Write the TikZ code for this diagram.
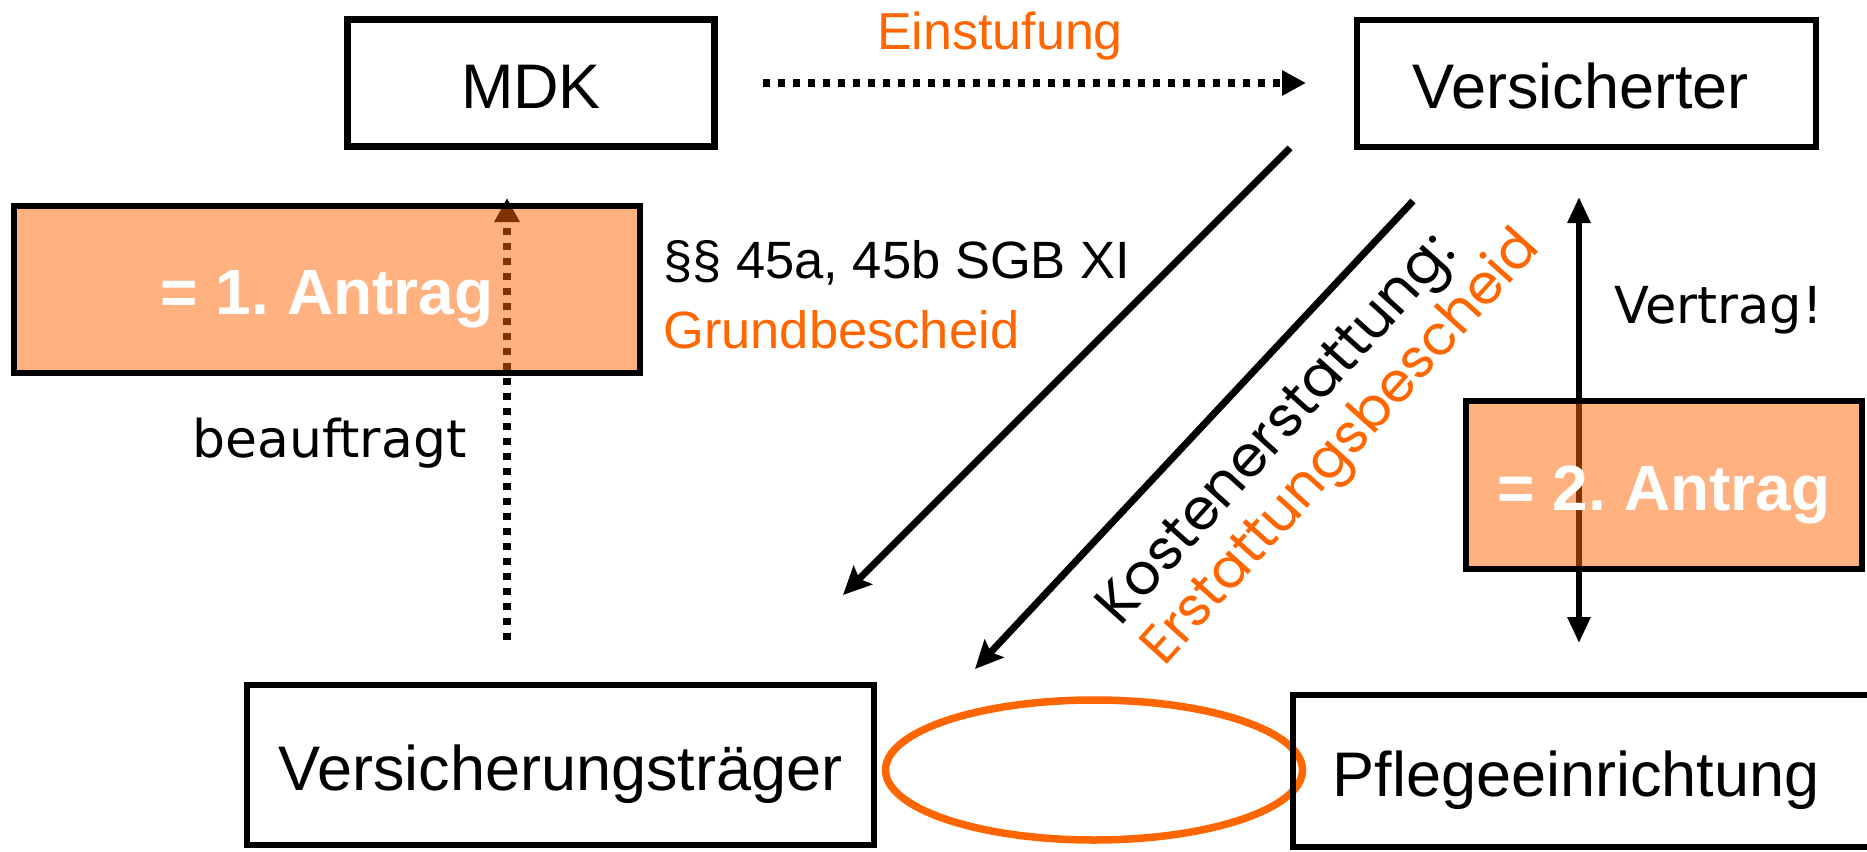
\documentclass[tikz,border=0pt]{standalone}
\usepackage{fontspec}
\setmainfont{Liberation Sans}
\newfontfamily\dvfont{DejaVu Sans}
\newfontfamily\popfont{Poppins}
\usetikzlibrary{arrows.meta,shapes.geometric}
\definecolor{orng}{HTML}{FF6600}
\newcommand\fsz[1]{\fontsize{#1}{#1}\selectfont}
\frenchspacing
\begin{document}
\begin{tikzpicture}[x=1pt,y=-1pt,
  box/.style={draw=black, line width=6.5pt, inner sep=0pt, text height=50pt, text depth=0pt, font=\fsz{63}},
  antrag/.style={box, fill=orng, fill opacity=0.5, text opacity=1, text=white, font=\fsz{64}\bfseries},
  lbl/.style={inner sep=0pt, anchor=base west},
  dotarrow/.style={line width=7.5pt, dash pattern=on 7pt off 8pt, -{Triangle[length=24pt,width=24pt]}},
  solidarrow/.style={line width=7pt, -{Stealth[length=28pt,width=26pt,inset=5pt]}},
  dblarrow/.style={line width=6pt, {Triangle[length=26pt,width=22pt]}-{Triangle[length=26pt,width=22pt]}}
]
\useasboundingbox (0,0) rectangle (1867,851);

% free connector ends
\coordinate (h1) at (763,83);
\coordinate (h2) at (1306,83);
\coordinate (v1) at (507,640);
\coordinate (v2) at (507,198);
\coordinate (d1a) at (1290,148);
\coordinate (d1b) at (843,595);
\coordinate (d2a) at (1413,201);
\coordinate (d2b) at (975,669);
\coordinate (w1) at (1579,197);
\coordinate (w2) at (1579,643);

% ellipse
\node[ellipse, draw=orng, line width=7.5pt, minimum width=417pt, minimum height=140pt, inner sep=0pt] (ell) at (1094,770) {};

% boxes
\node[box, minimum width=367pt, minimum height=127pt] (mdk) at (531,83) {MDK};
\node[box, minimum width=459pt, minimum height=127pt] (vers) at (1586.5,83.5) {\hspace*{-12pt}Versicherter};
\node[box, minimum width=627pt, minimum height=160pt] (vt) at (560.5,765) {Versicherungsträger};
\node[box, minimum width=582pt, minimum height=152pt] (pfl) at (1584,771) {\hspace*{-16pt}Pflegeeinrichtung};

% arrows
\draw[dotarrow] (h1) -- (h2);
\draw[dotarrow] (v1) -- (v2);
\draw[solidarrow] (d1a) -- (d1b);
\draw[solidarrow] (d2a) -- (d2b);
\draw[dblarrow] (w1) -- (w2);

% Antrag boxes (semi-transparent, over the arrows)
\node[antrag, minimum width=626pt, minimum height=167pt] (a1) at (327,289.5) {= 1. Antrag};
\node[antrag, minimum width=396pt, minimum height=168pt] (a2) at (1664,485) {= 2. Antrag};

% labels
\node[inner sep=0pt, anchor=base, text=orng, font=\fsz{52}] (einst) at (1000,50) {Einstufung};
\node[lbl, font=\fsz{52.5}] (sgb) at (663,278) {§§ 45a, 45b SGB XI};
\node[lbl, text=orng, font=\fsz{52.5}] (grund) at (663,348) {Grundbescheid};
\node[lbl, font=\dvfont\fsz{52}] (beauf) at (192,457) {beauftragt};
\node[lbl, font=\dvfont\fsz{51}] (vertr) at (1614,323) {Vertrag!};
\node[lbl, rotate=48, font=\popfont\fsz{57}] (kost) at (1120,628) {Kostenerstattung:};
\node[lbl, rotate=48, text=orng, font=\popfont\fsz{55}] (erst) at (1164,668) {Erstattungsbescheid};
\end{tikzpicture}
\end{document}
